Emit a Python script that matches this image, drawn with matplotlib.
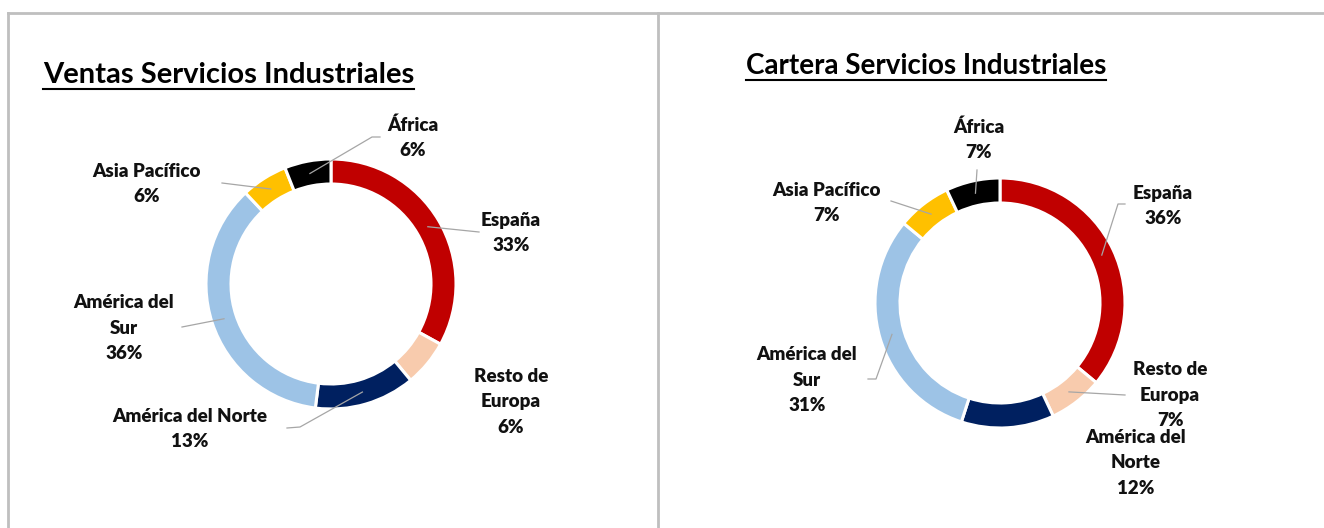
import numpy as np
import matplotlib
matplotlib.use("Agg")
import matplotlib.pyplot as plt
from matplotlib import font_manager

categories = ["España", "Resto de\nEuropa", "América del Norte", "América del\nSur", "Asia Pacífico", "África"]
cats_right = ["España", "Resto de\nEuropa", "América del\nNorte", "América del\nSur", "Asia Pacífico", "África"]
ventas = [33, 6, 13, 36, 6, 6]
cartera = [36, 7, 12, 31, 7, 7]
colors = ["#C00000", "#F8CBAD", "#002060", "#9DC3E6", "#FFC000", "#000000"]
titles = ["Ventas Servicios Industriales", "Cartera Servicios Industriales"]

W, H = 1324, 528
names = {f.name for f in font_manager.fontManager.ttflist}
FONT = "Lato" if "Lato" in names else "DejaVu Sans"

fig = plt.figure(figsize=(W / 100, H / 100), dpi=100)
ax = fig.add_axes([0, 0, 1, 1])
ax.set_xlim(0, W)
ax.set_ylim(0, H)
ax.set_aspect("equal")
ax.axis("off")

def Y(y):
    return H - y

# panel borders
bc = "#BFBFBF"
ax.plot([8, W], [Y(13), Y(13)], color=bc, lw=2)
ax.plot([8, 8], [Y(13), 0], color=bc, lw=2)
ax.plot([658, 658], [Y(13), 0], color=bc, lw=2)

panels = [
    dict(values=ventas, cats=categories, center=(331, 284), r=125, tsize=21,
         title_xy=(43, 83), label_xy=[(511, 233), (511, 402), (190, 429), (124, 328), (147, 184), (413, 138)],
         leader=[[(479, 232)], None, [(300, 427), (287, 428)], [(182, 327)], [(222, 183)], [(372, 137), (380, 137)]]),
    dict(values=cartera, cats=cats_right, center=(1000, 303), r=125, tsize=20,
         title_xy=(746, 74), label_xy=[(1163, 206), (1170, 395), (1136, 463), (807, 380), (827, 203), (979, 140)],
         leader=[[(1118, 204), (1125, 204)], [(1125, 395)], None, [(876, 379), (868, 379)], [(891, 201)], [(977, 170)]]),
]

for p, title in zip(panels, titles):
    cx, cy = p["center"]
    r = p["r"]
    w = 25
    ax.pie(p["values"], colors=colors, startangle=90, counterclock=False,
           center=(cx, Y(cy)), radius=r, frame=True,
           wedgeprops=dict(width=w, edgecolor="white", linewidth=2.2))
    t = ax.text(p["title_xy"][0], Y(p["title_xy"][1]), title, fontsize=p["tsize"], fontweight="bold",
                family=FONT, ha="left", va="baseline", color="black")
    fig.canvas.draw()
    bb = t.get_window_extent()
    ax.plot([bb.x0, bb.x1], [bb.y0 - 1, bb.y0 - 1], color="black", lw=1.5)

    total = sum(p["values"])
    cum = 0
    for v, name, lxy, ld in zip(p["values"], p["cats"], p["label_xy"], p["leader"]):
        mid = (cum + v / 2) / total * 2 * np.pi
        cum += v
        rm = r - w / 2
        sx = cx + rm * np.sin(mid)
        sy = cy - rm * np.cos(mid)
        ax.text(lxy[0], Y(lxy[1]), f"{name}\n{v}%", fontsize=13.5, fontweight="heavy", family=FONT,
                ha="center", va="center", linespacing=1.58, color="#111111")
        if ld:
            xs = [sx] + [q[0] for q in ld]
            ys = [Y(sy)] + [Y(q[1]) for q in ld]
            ax.plot(xs, ys, color="#A6A6A6", lw=0.9)

ax.set_xlim(0, W)
ax.set_ylim(0, H)
ax.axis("off")
fig.savefig("out.png", dpi=100, facecolor="white")
